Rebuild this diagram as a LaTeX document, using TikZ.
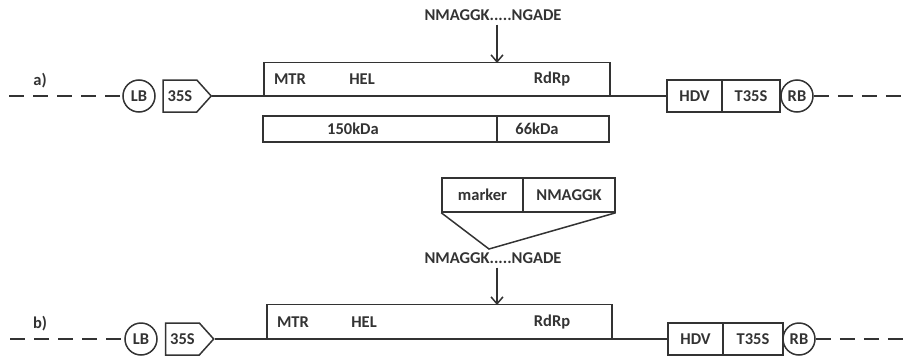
\documentclass[tikz,border=0pt]{standalone}
\usepackage{fontspec}
\setmainfont{Carlito}
\usetikzlibrary{shapes.symbols,arrows.meta}
\definecolor{ink}{HTML}{333333}
\tikzset{
  ln/.style={line width=1.5pt, draw=ink},
  lbl/.style={font=\bfseries\fontsize{16.5}{18}\selectfont, text=ink, inner sep=0pt},
  dashln/.style={ln, dash pattern=on 15pt off 9pt},
  circ/.style={ln, circle, minimum size=32pt, inner sep=0pt, fill=white, lbl},
  prom/.style={ln, signal, signal to=east, signal pointer angle=96, minimum width=48pt, minimum height=32pt, inner sep=0pt, fill=white, lbl},
  cell/.style={ln, rectangle, inner sep=0pt, fill=white, lbl},
  arr/.style={ln, -{Straight Barb[length=7pt,width=12pt]}},
}
\begin{document}
\begin{tikzpicture}[x=1pt,y=-1pt]
\useasboundingbox (0,0) rectangle (910,356);
% ---------------- a) ----------------
\node[lbl] (labA) at (40,81) {a)};
\coordinate (dAl) at (9,96);
\coordinate (dAr) at (908,96);
\node[cell, minimum width=55pt, minimum height=32pt] (hdvA) at (694.5,96) {HDV};
\node[cell, minimum width=58pt, minimum height=32pt] (tA) at (751,96) {T35S};
\node[circ] (rbA) at (797,96) {RB};
\node[prom] (pA) at (180,96) {35S};
\node[circ] (lbA) at (139,96) {LB};
\draw[ln] (pA.east) -- (hdvA.west);
\draw[dashln] (dAl) -- (lbA.west);
\draw[dashln] (rbA.east) -- (dAr);
\node[cell, minimum width=346pt, minimum height=33pt, anchor=south west] (orfA) at (263,96) {};
\node[lbl] (mtrA) at (290,79) {MTR};
\node[lbl] (helA) at (362,79) {HEL};
\node[lbl] (rdrpA) at (552,79) {RdRp};
\node[lbl] (motA) at (493,15) {NMAGGK.....NGADE};
\coordinate (cutA) at (497,63);
\draw[arr] (motA.south -| cutA) ++(0,4) -- (cutA);
\node[cell, minimum width=234pt, minimum height=26pt] (k150) at (380,129) {};
\node[cell, minimum width=112pt, minimum height=26pt] (k66) at (553,129) {};
\node[lbl] (t150) at (353,129) {150kDa};
\node[lbl] (t66) at (537,129) {66kDa};
% ---------------- b) ----------------
\node[lbl] (labB) at (40,324) {b)};
\coordinate (dBl) at (10,339);
\coordinate (dBr) at (908,339);
\node[cell, minimum width=55pt, minimum height=32pt] (hdvB) at (695.5,339) {HDV};
\node[cell, minimum width=60pt, minimum height=32pt] (tB) at (753,339) {T35S};
\node[circ] (rbB) at (799,339) {RB};
\node[prom] (pB) at (182.5,339) {35S};
\node[circ] (lbB) at (141,339) {LB};
\draw[ln] (pB.east) -- (hdvB.west);
\draw[dashln] (dBl) -- (lbB.west);
\draw[dashln] (rbB.east) -- (dBr);
\node[cell, minimum width=345pt, minimum height=34pt, anchor=south west] (orfB) at (266,339) {};
\node[lbl] (mtrB) at (293,322) {MTR};
\node[lbl] (helB) at (364,322) {HEL};
\node[lbl] (rdrpB) at (552,322) {RdRp};
\node[cell, minimum width=81pt, minimum height=34pt] (mk) at (482.5,195) {marker};
\node[cell, minimum width=92pt, minimum height=34pt] (nm) at (569,195) {NMAGGK};
\node[lbl] (motB) at (493,258) {NMAGGK.....NGADE};
\coordinate (apex) at (489,249);
\draw[ln] (mk.south west) -- (apex) -- (nm.south east);
\coordinate (cutB) at (497,305);
\draw[arr] (motB.south -| cutB) ++(0,4) -- (cutB);
\end{tikzpicture}
\end{document}
